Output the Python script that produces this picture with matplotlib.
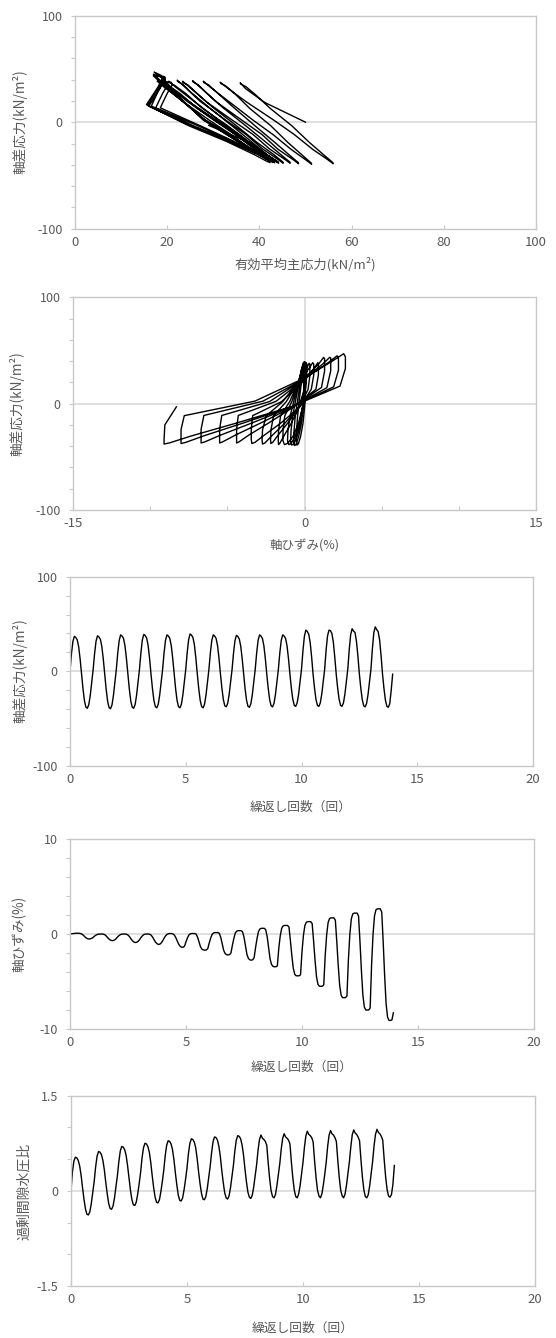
import numpy as np
import matplotlib
matplotlib.use("Agg")
import matplotlib.pyplot as plt
from matplotlib.ticker import FixedLocator, MultipleLocator, FixedFormatter

plt.rcParams['font.family'] = ['Noto Sans CJK JP', 'DejaVu Sans']
plt.rcParams['axes.unicode_minus'] = False

# ---------------- data ----------------
SAMPLES_PER_CYCLE = 16          # samples per loading cycle (t = 0, 1/16, ... 15/16)
P0 = 50.0                       # initial effective mean stress (kN/m2), start of stress path

# deviator stress q (kN/m2), one row per cycle
stress_rows = [
    [0.0, 18.5, 31.5, 37.0, 35.9, 33.3, 25.9, 13.0, -3.1, -18.7, -31.2, -37.8, -39.0, -35.1, -25.4, -11.7],
    [1.9, 18.8, 31.9, 37.5, 36.4, 33.8, 26.3, 13.1, -3.2, -19.0, -31.6, -38.3, -39.5, -35.6, -25.7, -11.9],
    [1.9, 19.3, 32.7, 38.5, 37.3, 34.7, 27.0, 13.5, -3.1, -18.7, -31.2, -37.8, -39.0, -35.1, -25.4, -11.7],
    [2.0, 19.5, 33.2, 39.0, 37.8, 35.1, 27.3, 13.7, -3.1, -18.5, -30.8, -37.3, -38.5, -34.7, -25.0, -11.6],
    [1.9, 19.3, 32.7, 38.5, 37.3, 34.7, 27.0, 13.5, -3.1, -18.5, -30.8, -37.3, -38.5, -34.7, -25.0, -11.6],
    [2.0, 19.8, 33.6, 39.5, 38.3, 35.6, 27.7, 13.8, -3.1, -18.5, -30.8, -37.3, -38.5, -34.7, -25.0, -11.6],
    [1.9, 19.3, 32.7, 38.5, 37.3, 34.7, 27.0, 13.5, -3.0, -18.0, -30.0, -36.4, -37.5, -33.8, -24.4, -11.3],
    [1.9, 19.0, 32.3, 38.0, 36.9, 34.2, 26.6, 13.3, -3.0, -18.2, -30.4, -36.9, -38.0, -34.2, -24.7, -11.4],
    [1.9, 19.3, 32.7, 38.5, 37.3, 34.7, 27.0, 13.5, -3.0, -18.0, -30.0, -36.4, -37.5, -33.8, -24.4, -11.3],
    [1.9, 19.3, 32.7, 38.5, 37.3, 34.7, 27.0, 13.5, -3.0, -17.8, -29.6, -35.9, -37.0, -33.3, -24.1, -11.1],
    [2.2, 21.8, 37.0, 43.5, 42.2, 39.2, 30.5, 15.2, -3.0, -17.8, -29.6, -35.9, -37.0, -33.3, -24.1, -11.1],
    [2.0, 22.5, 37.5, 43.5, 43.0, 40.0, 31.0, 15.0, -3.0, -17.8, -29.6, -35.9, -37.0, -33.3, -24.1, -11.1],
    [2.3, 23.0, 39.0, 45.0, 42.5, 41.0, 31.5, 15.8, -3.0, -18.0, -30.0, -36.4, -37.5, -33.8, -24.4, -11.3],
    [2.4, 24.0, 41.0, 47.0, 44.0, 42.0, 33.0, 16.5, -3.0, -18.2, -30.4, -36.9, -38.0, -34.2, -20.0, -3.0],
]

# axial strain (%), one row per cycle
strain_rows = [
    [0.00, 0.02, 0.05, 0.07, 0.08, 0.08, 0.08, 0.06, 0.01, -0.10, -0.26, -0.40, -0.49, -0.53, -0.51, -0.45],
    [-0.35, -0.21, -0.11, -0.04, -0.01, 0.00, 0.00, -0.02, -0.08, -0.21, -0.39, -0.55, -0.65, -0.70, -0.68, -0.60],
    [-0.46, -0.28, -0.14, -0.05, -0.01, 0.00, 0.00, -0.03, -0.11, -0.27, -0.50, -0.70, -0.84, -0.90, -0.87, -0.77],
    [-0.59, -0.36, -0.18, -0.06, -0.01, 0.00, 0.00, -0.03, -0.13, -0.33, -0.61, -0.86, -1.02, -1.10, -1.07, -0.93],
    [-0.70, -0.41, -0.18, -0.03, 0.04, 0.05, 0.05, 0.01, -0.12, -0.39, -0.75, -1.08, -1.30, -1.40, -1.39, -1.28],
    [-0.82, -0.41, -0.10, 0.02, 0.05, 0.05, 0.05, -0.02, -0.34, -0.86, -1.35, -1.60, -1.68, -1.70, -1.68, -1.55],
    [-0.96, -0.44, -0.04, 0.11, 0.15, 0.15, 0.15, 0.06, -0.37, -1.07, -1.73, -2.06, -2.18, -2.20, -2.17, -2.00],
    [-1.18, -0.47, 0.10, 0.30, 0.35, 0.35, 0.35, 0.23, -0.33, -1.26, -2.13, -2.56, -2.72, -2.75, -2.72, -2.48],
    [-1.41, -0.47, 0.27, 0.53, 0.60, 0.60, 0.60, 0.44, -0.29, -1.51, -2.64, -3.21, -3.41, -3.45, -3.45, -3.36],
    [-1.49, -0.19, 0.60, 0.86, 0.90, 0.90, 0.90, 0.74, -0.69, -2.28, -3.61, -4.24, -4.40, -4.40, -4.40, -4.29],
    [-1.84, -0.13, 0.90, 1.24, 1.30, 1.30, 1.30, 1.10, -0.74, -2.78, -4.48, -5.30, -5.50, -5.50, -5.50, -5.36],
    [-2.26, -0.10, 1.20, 1.63, 1.70, 1.70, 1.70, 1.45, -0.82, -3.34, -5.44, -6.45, -6.70, -6.70, -6.70, -6.52],
    [-2.70, -0.03, 1.58, 2.11, 2.20, 2.20, 2.20, 1.89, -0.86, -3.92, -6.47, -7.69, -8.00, -8.00, -8.00, -7.79],
    [-3.21, -0.01, 1.91, 2.54, 2.65, 2.65, 2.65, 2.30, -0.88, -4.40, -7.34, -8.75, -9.10, -9.10, -9.05, -8.30],
]

# excess pore water pressure ratio, one row per cycle
ru_rows = [
    [0.00, 0.30, 0.47, 0.53, 0.52, 0.48, 0.39, 0.24, 0.04, -0.14, -0.29, -0.37, -0.38, -0.33, -0.20, -0.03],
    [0.15, 0.38, 0.55, 0.62, 0.61, 0.57, 0.48, 0.33, 0.13, -0.05, -0.20, -0.28, -0.29, -0.24, -0.11, 0.06],
    [0.24, 0.46, 0.63, 0.70, 0.69, 0.65, 0.56, 0.40, 0.20, 0.01, -0.14, -0.22, -0.23, -0.18, -0.05, 0.11],
    [0.29, 0.52, 0.68, 0.75, 0.74, 0.70, 0.61, 0.45, 0.24, 0.05, -0.10, -0.18, -0.19, -0.14, -0.01, 0.15],
    [0.33, 0.56, 0.72, 0.79, 0.78, 0.74, 0.65, 0.49, 0.28, 0.09, -0.07, -0.15, -0.16, -0.11, 0.02, 0.18],
    [0.36, 0.59, 0.75, 0.82, 0.81, 0.77, 0.68, 0.51, 0.30, 0.11, -0.04, -0.13, -0.14, -0.09, 0.04, 0.21],
    [0.39, 0.61, 0.78, 0.85, 0.84, 0.80, 0.70, 0.54, 0.32, 0.13, -0.03, -0.11, -0.13, -0.08, 0.05, 0.22],
    [0.40, 0.63, 0.80, 0.87, 0.86, 0.82, 0.72, 0.56, 0.34, 0.14, -0.02, -0.10, -0.12, -0.07, 0.06, 0.23],
    [0.41, 0.64, 0.81, 0.88, 0.83, 0.81, 0.78, 0.72, 0.44, 0.19, 0.00, -0.09, -0.11, -0.06, 0.08, 0.25],
    [0.43, 0.66, 0.83, 0.90, 0.85, 0.83, 0.80, 0.74, 0.45, 0.20, 0.01, -0.09, -0.11, -0.05, 0.08, 0.26],
    [0.45, 0.69, 0.87, 0.94, 0.89, 0.87, 0.84, 0.77, 0.47, 0.21, 0.01, -0.08, -0.11, -0.05, 0.09, 0.26],
    [0.45, 0.70, 0.88, 0.95, 0.90, 0.88, 0.84, 0.78, 0.48, 0.21, 0.01, -0.08, -0.11, -0.05, 0.09, 0.27],
    [0.46, 0.70, 0.89, 0.96, 0.91, 0.89, 0.85, 0.79, 0.48, 0.21, 0.01, -0.09, -0.11, -0.06, 0.08, 0.27],
    [0.46, 0.71, 0.89, 0.97, 0.92, 0.90, 0.86, 0.80, 0.49, 0.22, 0.02, -0.08, -0.10, -0.06, 0.10, 0.40],
]

# axis titles
xlabel_p = "有効平均主応力(kN/m²)"
xlabel_eps = "軸ひずみ(%)"
xlabel_n = "繰返し回数（回）"
ylabel_q = "軸差応力(kN/m²)"
ylabel_eps = "軸ひずみ(%)"
ylabel_ru = "過剰間隙水圧比"

q = np.concatenate(stress_rows)
eps = np.concatenate(strain_rows)
ru = np.concatenate(ru_rows)
N = np.arange(q.size) / SAMPLES_PER_CYCLE
p_eff = P0 * (1.0 - ru) + q / 3.0   # effective mean principal stress

# ---------------- figure ----------------
W, H = 556, 1338
fig = plt.figure(figsize=(W / 100, H / 100), dpi=100)
fig.patch.set_facecolor('white')

TXT = '#595959'
FRAME = '#c8c8c8'
ZERO = '#d9d9d9'


def add_axes(left, right, top, bottom):
    return fig.add_axes([left / W, 1 - bottom / H, (right - left) / W, (bottom - top) / H])


def style(ax, xlim, ylim, xticks, yticks, yminor, xminor=None, ylabels=None, vzero=False):
    ax.set_xlim(*xlim)
    ax.set_ylim(*ylim)
    for s in ax.spines.values():
        s.set_color(FRAME)
        s.set_linewidth(1.0)
    ax.axhline(0, color=ZERO, lw=1.2, zorder=0)
    if vzero:
        ax.axvline(0, color=ZERO, lw=1.2, zorder=0)
    ax.xaxis.set_major_locator(FixedLocator(xticks))
    if xminor is not None:
        ax.xaxis.set_minor_locator(MultipleLocator(xminor))
    ax.yaxis.set_major_locator(FixedLocator(yticks))
    ax.yaxis.set_minor_locator(MultipleLocator(yminor))
    if ylabels is not None:
        ax.yaxis.set_major_formatter(FixedFormatter(ylabels))
    ax.tick_params(axis='y', which='both', direction='out', length=3, width=0.8,
                   color=FRAME, labelcolor=TXT, labelsize=9, pad=6)
    ax.tick_params(axis='x', which='both', direction='in', length=3, width=0.8,
                   color=FRAME, labelcolor=TXT, labelsize=9.5, pad=5)


def ylabel(text, x, y, size=9.8):
    fig.text(x / W, 1 - y / H, text, rotation=90, ha='center', va='center',
             color=TXT, fontsize=size)


def xlabel(text, x, y, size=9.5):
    fig.text(x / W, 1 - y / H, text, ha='center', va='center', color=TXT, fontsize=size)


LINE = dict(color='black', lw=1.0, solid_joinstyle='round')

# panel 1: stress path
ax1 = add_axes(75, 536, 15.7, 228.7)
ax1.plot(p_eff, q, **LINE)
style(ax1, (0, 100), (-100, 100), [0, 20, 40, 60, 80, 100], [-100, 0, 100], 20)
ylabel(ylabel_q, 19.5, 122)
xlabel(xlabel_p, 305, 264)

# panel 2: stress-strain
ax2 = add_axes(73, 536, 297.3, 510)
ax2.plot(eps, q, **LINE)
style(ax2, (-15, 15), (-100, 100), [-15, 0, 15], [-100, 0, 100], 20, xminor=5, vzero=True)
ylabel(ylabel_q, 17, 404)
xlabel(xlabel_eps, 304, 546, size=9)

# panel 3: stress vs cycles
ax3 = add_axes(70, 533, 576.7, 766)
ax3.plot(N, q, **LINE)
style(ax3, (0, 20), (-100, 100), [0, 5, 10, 15, 20], [-100, 0, 100], 20)
ylabel(ylabel_q, 19.5, 671)
xlabel(xlabel_n, 301, 807, size=9.2)

# panel 4: strain vs cycles
ax4 = add_axes(70, 534, 839, 1029)
ax4.plot(N, eps, **LINE)
style(ax4, (0, 20), (-10, 10), [0, 5, 10, 15, 20], [-10, 0, 10], 2)
ylabel(ylabel_eps, 19, 934)
xlabel(xlabel_n, 302, 1067, size=9.2)

# panel 5: pore pressure ratio vs cycles
ax5 = add_axes(71, 535, 1095.7, 1286)
ax5.plot(N, ru, **LINE)
style(ax5, (0, 20), (-1.5, 1.5), [0, 5, 10, 15, 20], [-1.5, 0, 1.5], 0.5,
      ylabels=['-1.5', '0', '1.5'])
ylabel(ylabel_ru, 24, 1191, size=10)
xlabel(xlabel_n, 303, 1328, size=9.2)

fig.savefig('out.png', dpi=100, facecolor='white')
